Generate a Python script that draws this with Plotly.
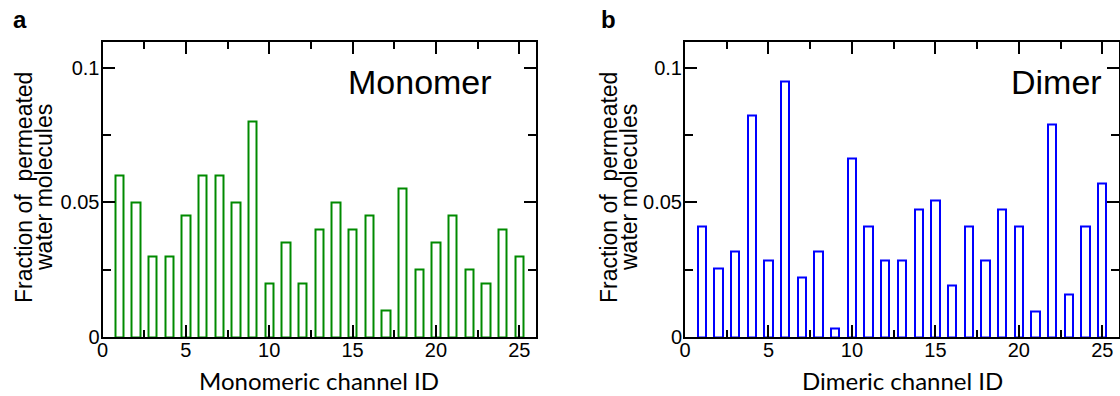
import plotly.graph_objects as go

# Channel IDs and permeation fractions per channel
channel_ids = list(range(1, 26))
monomer_fraction = [0.060, 0.050, 0.030, 0.030, 0.045, 0.060, 0.060, 0.050, 0.080, 0.020,
                    0.035, 0.020, 0.040, 0.050, 0.040, 0.045, 0.010, 0.055, 0.025, 0.035,
                    0.045, 0.025, 0.020, 0.040, 0.030]
dimer_fraction = [0.0411, 0.0253, 0.0316, 0.0822, 0.0285, 0.0949, 0.0221, 0.0316, 0.0032, 0.0664,
                  0.0411, 0.0285, 0.0285, 0.0474, 0.0506, 0.0190, 0.0411, 0.0285, 0.0474, 0.0411,
                  0.0095, 0.0791, 0.0158, 0.0411, 0.0569]

x_tick_vals = [0, 5, 10, 15, 20, 25]
x_tick_text = ["0", "5", "10", "15", "20", "25"]
y_tick_vals = [0, 0.05, 0.1]
y_tick_text = ["0", "0.05", "0.1"]

W, H = 1120, 396
TICK_FONT = dict(family="Liberation Sans, Arial, sans-serif", size=20, color="black")
TITLE_FAMILY = "Lato, Open Sans, sans-serif"
LABEL_FONT = "Liberation Sans, Arial, sans-serif"

fig = go.Figure()
fig.add_trace(go.Bar(x=channel_ids, y=monomer_fraction, width=0.5,
                     marker=dict(color="white", line=dict(color="#008a00", width=2)),
                     xaxis="x", yaxis="y", showlegend=False))
fig.add_trace(go.Bar(x=channel_ids, y=dimer_fraction, width=0.5,
                     marker=dict(color="white", line=dict(color="#0000ff", width=2)),
                     xaxis="x2", yaxis="y2", showlegend=False))

def px_x(p):
    return p / W

def px_y(p):
    return 1 - p / H

y_dom = [px_y(337), px_y(41.5)]

common_x = dict(range=[0, 26], tickvals=x_tick_vals, ticktext=x_tick_text,
                ticks="inside", ticklen=12, tickwidth=2, tickcolor="black",
                showline=True, linewidth=2, linecolor="black", mirror="allticks",
                showgrid=False, zeroline=False, tickfont=TICK_FONT, automargin=False,
                ticklabelstandoff=-6,
                minor=dict(tickvals=[2.5, 7.5, 12.5, 17.5, 22.5], ticks="inside",
                           ticklen=7, tickwidth=2, tickcolor="black", showgrid=False))
common_y = dict(range=[0, 0.1098], tickvals=y_tick_vals, ticktext=y_tick_text,
                ticks="inside", ticklen=12, tickwidth=2, tickcolor="black",
                showline=True, linewidth=2, linecolor="black", mirror="allticks",
                showgrid=False, zeroline=False, tickfont=TICK_FONT, automargin=False,
                ticklabelstandoff=-3,
                minor=dict(tickvals=[0.025, 0.075], ticks="inside",
                           ticklen=8, tickwidth=2, tickcolor="black", showgrid=False))

fig.update_layout(
    template="none",
    width=W, height=H,
    margin=dict(l=0, r=0, t=0, b=0),
    paper_bgcolor="white", plot_bgcolor="white",
    bargap=0,
    xaxis=dict(domain=[px_x(102.5), px_x(536)], anchor="y", **common_x),
    yaxis=dict(domain=y_dom, anchor="x", **common_y),
    xaxis2=dict(domain=[px_x(685), px_x(1119)], anchor="y2", **common_x),
    yaxis2=dict(domain=y_dom, anchor="x2", **common_y),
)

def paper_text(text, x, y, size, family=LABEL_FONT, angle=0):
    return dict(text=text, x=px_x(x), y=px_y(y), xref="paper", yref="paper",
                xanchor="center", yanchor="middle", textangle=angle, showarrow=False,
                font=dict(family=family, size=size, color="black"))

annotations = [
    # panel letters
    paper_text("<b>a</b>", 20, 20, 24),
    paper_text("<b>b</b>", 608, 19, 24),
    # in-panel labels
    dict(text="Monomer", x=23.5, y=0.0949, xref="x", yref="y", xanchor="right",
         yanchor="middle", showarrow=False,
         font=dict(family=LABEL_FONT, size=34, color="black")),
    dict(text="Dimer", x=25.1, y=0.0949, xref="x2", yref="y2", xanchor="right",
         yanchor="middle", showarrow=False,
         font=dict(family=LABEL_FONT, size=34, color="black")),
    # x-axis titles
    paper_text("Monomeric channel ID", 319, 380, 24, TITLE_FAMILY),
    paper_text("Dimeric channel ID", 902, 380, 24, TITLE_FAMILY),
]

# two-line y-axis titles, one annotation per line for tight leading
for cx in (0, 585):
    annotations.append(paper_text("Fraction of  permeated", cx + 24, 188, 23, angle=-90))
    annotations.append(paper_text("water molecules", cx + 44, 188, 23, angle=-90))

fig.update_layout(annotations=annotations)
fig.write_html("out.html")
